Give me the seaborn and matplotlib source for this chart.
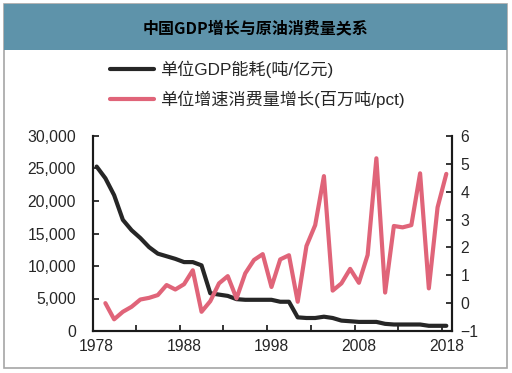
import numpy as np
import pandas as pd
import matplotlib
matplotlib.use("Agg")
import matplotlib.pyplot as plt
from matplotlib.patches import Rectangle
from matplotlib.ticker import FuncFormatter, MultipleLocator, FixedLocator
import seaborn as sns

# data
years = list(range(1978, 2019))
energy_per_gdp = [25300, 23500, 20900, 17100, 15500, 14300, 12900, 11900, 11500, 11100,
                  10600, 10600, 10100, 5800, 5600, 5400, 4900, 4800, 4800, 4800,
                  4800, 4500, 4500, 2100, 2000, 2000, 2200, 2000, 1600, 1500,
                  1400, 1400, 1400, 1100, 1000, 1000, 1000, 1000, 800, 800, 800]
oil_years = list(range(1979, 2019))
oil_growth = [0.0, -0.58, -0.31, -0.13, 0.13, 0.19, 0.29, 0.65, 0.49, 0.68,
              1.18, -0.31, 0.07, 0.71, 0.97, 0.17, 1.07, 1.55, 1.76, 0.58,
              1.57, 1.72, 0.05, 2.05, 2.8, 4.56, 0.45, 0.71, 1.23, 0.73,
              1.73, 5.2, 0.38, 2.77, 2.72, 2.8, 4.66, 0.53, 3.44, 4.64]

title = "中国GDP增长与原油消费量关系"
label_energy = "单位GDP能耗(吨/亿元)"
label_oil = "单位增速消费量增长(百万吨/pct)"

df_energy = pd.DataFrame({"year": years, "value": energy_per_gdp})
df_oil = pd.DataFrame({"year": oil_years, "value": oil_growth})

sns.set_style("ticks")
plt.rcParams["font.family"] = ["Liberation Sans", "Noto Sans CJK SC", "DejaVu Sans"]

W, H = 512, 373
fig = plt.figure(figsize=(W / 100, H / 100), dpi=100)

# frame and title band
fig.patches.append(Rectangle((4 / W, 1 - 368 / H), 503 / W, 364 / H, transform=fig.transFigure,
                             facecolor="white", edgecolor="#A6A6A6", linewidth=1.2, zorder=-2))
fig.patches.append(Rectangle((4 / W, 1 - 50 / H), 503 / W, 46 / H, transform=fig.transFigure,
                             facecolor="#5E93AA", edgecolor="none", zorder=-1))
fig.text(256 / W, 1 - 28 / H, title, ha="center", va="center", fontsize=11.5,
         fontweight="bold", family=["Noto Sans CJK SC", "DejaVu Sans"], color="black")

ax = fig.add_axes([92.7 / W, 1 - 331 / H, (452 - 92.7) / W, (331 - 136) / H])
ax.patch.set_alpha(0)
ax2 = ax.twinx()
ax2.patch.set_alpha(0)

sns.lineplot(data=df_energy, x="year", y="value", ax=ax, color="#262626", linewidth=3,
             label=label_energy, legend=False)
sns.lineplot(data=df_oil, x="year", y="value", ax=ax2, color="#E06479", linewidth=3,
             label=label_oil, legend=False)

ax.set_xlim(1977.55, 2018.65)
ax.set_ylim(0, 30000)
ax2.set_ylim(-1, 6)
ax.yaxis.set_major_locator(MultipleLocator(5000))
ax.yaxis.set_major_formatter(FuncFormatter(lambda v, p: f"{int(v):,}"))
ax2.yaxis.set_major_locator(MultipleLocator(1))

ax.set_xticks([1978, 1988, 1998, 2008, 2018])
ax.xaxis.set_minor_locator(FixedLocator([1977.5 + 5 * k for k in range(9)]))
ax.tick_params(axis="x", which="major", length=0, pad=6, labelsize=11.3)
ax.tick_params(axis="x", which="minor", length=4, width=1.3, direction="in")
ax.tick_params(axis="y", length=4, width=1.3, direction="in", pad=12, labelsize=11.3)
ax2.tick_params(axis="y", length=4, width=1.3, direction="in", pad=6, labelsize=11.3)

for a in (ax, ax2):
    a.set_xlabel("")
    a.set_ylabel("")
    a.spines["top"].set_visible(False)
    for s in ("left", "right", "bottom"):
        a.spines[s].set_linewidth(1.5)
        a.spines[s].set_color("#1a1a1a")

handles = [ax.get_lines()[0], ax2.get_lines()[0]]
fig.legend(handles, [label_energy, label_oil], loc="upper left",
           bbox_to_anchor=(110 / W, 1 - 61 / H), frameon=False, fontsize=12.3,
           handlelength=2.6, handletextpad=0.3, labelspacing=0.72, borderpad=0,
           borderaxespad=0)

fig.savefig("out.png", dpi=100)
